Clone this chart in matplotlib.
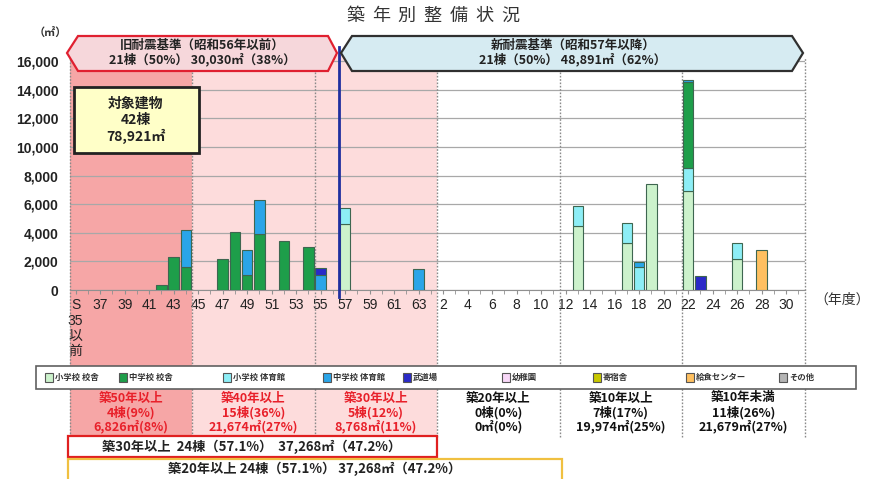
import matplotlib
matplotlib.use('Agg')
import matplotlib.pyplot as plt
from matplotlib.patches import Rectangle, Polygon
from matplotlib.lines import Line2D
from matplotlib import transforms

W, H = 880, 479
JP = ['Noto Sans CJK JP', 'DejaVu Sans']
LAT = ['Liberation Sans', 'Noto Sans CJK JP', 'DejaVu Sans']

# ---------------- data ----------------
slots = ['S35以前', 'S36', 'S37', 'S38', 'S39', 'S40', 'S41', 'S42', 'S43', 'S44',
         'S45', 'S46', 'S47', 'S48', 'S49', 'S50', 'S51', 'S52', 'S53', 'S54',
         'S55', 'S56', 'S57', 'S58', 'S59', 'S60', 'S61', 'S62', 'S63', 'H1',
         'H2', 'H3', 'H4', 'H5', 'H6', 'H7', 'H8', 'H9', 'H10', 'H11',
         'H12', 'H13', 'H14', 'H15', 'H16', 'H17', 'H18', 'H19', 'H20', 'H21',
         'H22', 'H23', 'H24', 'H25', 'H26', 'H27', 'H28', 'H29', 'H30', 'H31']

tick_slots = ['S35以前', 'S37', 'S39', 'S41', 'S43', 'S45', 'S47', 'S49', 'S51', 'S53',
              'S55', 'S57', 'S59', 'S61', 'S63', 'H2', 'H4', 'H6', 'H8', 'H10',
              'H12', 'H14', 'H16', 'H18', 'H20', 'H22', 'H24', 'H26', 'H28', 'H30']
tick_texts = ['S\n35\n以\n前', '37', '39', '41', '43', '45', '47', '49', '51', '53',
              '55', '57', '59', '61', '63', '2', '4', '6', '8', '10',
              '12', '14', '16', '18', '20', '22', '24', '26', '28', '30']

ytick_values = [0, 2000, 4000, 6000, 8000, 10000, 12000, 14000, 16000]
ytick_texts = ['0', '2,000', '4,000', '6,000', '8,000', '10,000', '12,000', '14,000', '16,000']

# building types (legend order)
legend_names = ['小学校 校舎', '中学校 校舎', '小学校 体育館', '中学校 体育館', '武道場',
                '幼稚園', '寄宿舎', '給食センター', 'その他']
legend_colors = ['#CCF2CC', '#1E9E4A', '#8DEEF6', '#2AA5E8', '#2A2AC8',
                 '#F8D8F8', '#C8C800', '#FFC060', '#B4B4B4']

# floor area (㎡) per fiscal year of construction
elem_bldg = {'S57': 4590, 'H13': 4500, 'H17': 3260, 'H19': 7404, 'H22': 6950, 'H26': 2170}
elem_gym = {'S57': 1160, 'H13': 1380, 'H17': 1450, 'H18': 1630, 'H22': 1560, 'H26': 1089}
jr_bldg = {'S42': 330, 'S43': 2330, 'S44': 1590, 'S47': 2140, 'S48': 4080, 'S49': 1020,
           'S50': 3910, 'S52': 3420, 'S54': 2994, 'H22': 5990}
jr_gym = {'S44': 2576, 'S49': 1740, 'S50': 2370, 'S55': 1020, 'S63': 1488, 'H18': 350, 'H22': 150}
budo = {'S55': 510, 'H23': 970}
kinder = {}
dorm = {}
lunch = {'H28': 2800}
other = {}

# stacking order (bottom -> top): (series, legend index)
stack = [(elem_bldg, 0), (elem_gym, 2), (jr_bldg, 1), (jr_gym, 3), (budo, 4),
         (kinder, 5), (dorm, 6), (lunch, 7), (other, 8)]

region_bounds = [-0.5, 9.5, 19.5, 29.5, 39.5, 49.5, 59.5]
region_titles = ['築50年以上', '築40年以上', '築30年以上', '築20年以上', '築10年以上', '築10年未満']
region_counts = ['4棟(9%)', '15棟(36%)', '5棟(12%)', '0棟(0%)', '7棟(17%)', '11棟(26%)']
region_areas = ['6,826㎡(8%)', '21,674㎡(27%)', '8,768㎡(11%)', '0㎡(0%)', '19,974㎡(25%)', '21,679㎡(27%)']
region_text_colors = ['#E8202A', '#E8202A', '#E8202A', '#111111', '#111111', '#111111']
region_fill = ['#F6A6A6', '#FDDCDC', '#FDDCDC', None, None, None]

old_std = ['旧耐震基準（昭和56年以前）', '21棟（50%） 30,030㎡（38%）']
new_std = ['新耐震基準（昭和57年以降）', '21棟（50%） 48,891㎡（62%）']
target = ['対象建物', '42棟', '78,921㎡']
sum30 = '築30年以上  24棟（57.1%）  37,268㎡（47.2%）'
sum20 = '築20年以上 24棟（57.1%） 37,268㎡（47.2%）'
title = '築年別整備状況'
boundary_x = 21.5  # between S56 and S57


def fx(p):
    return p / W


def fy(p):
    return 1 - p / H


# ---------------- figure ----------------
fig = plt.figure(figsize=(W / 100, H / 100), dpi=100)
fig.patch.set_facecolor('white')
ax = fig.add_axes([fx(69.5), fy(290), (804.5 - 69.5) / W, (290 - 46.7) / H])
ax.set_facecolor('none')
ax.set_xlim(-0.5, 59.5)
ax.set_ylim(0, 17000)

blend = transforms.blended_transform_factory(ax.transData, fig.transFigure)

# backgrounds
for i in range(6):
    if region_fill[i]:
        ax.add_patch(Rectangle((region_bounds[i], fy(436)), region_bounds[i + 1] - region_bounds[i],
                               fy(55) - fy(436), transform=blend, facecolor=region_fill[i],
                               edgecolor='none', zorder=0, clip_on=False))

# grid
ax.set_axisbelow(True)
ax.yaxis.grid(True, color='#A8A8A8', lw=0.9)
ax.set_yticks(ytick_values)
ax.set_yticklabels(ytick_texts, fontfamily=LAT, fontsize=10, fontweight='bold', color='#222222')
ax.tick_params(axis='y', length=0, pad=8)

# vertical dotted region separators
for xb in region_bounds:
    ax.add_line(Line2D([xb, xb], [fy(437), fy(57)], transform=blend, color='#8A8A8A',
                       lw=1.0, ls=(0, (1.2, 1.2)), zorder=1, clip_on=False))

# stacked bars
bottoms = [0.0] * len(slots)
for series, li in stack:
    if not series:
        continue
    xs = [slots.index(k) for k in series]
    vals = list(series.values())
    bots = [bottoms[x] for x in xs]
    ax.bar(xs, vals, bottom=bots, width=0.85, color=legend_colors[li],
           edgecolor='#3E6650', linewidth=0.8, zorder=3)
    for x, v in zip(xs, vals):
        bottoms[x] += v

# x axis
ax.set_xticks(range(len(slots)), minor=True)
ax.set_xticks([slots.index(s) for s in tick_slots])
ax.set_xticklabels(tick_texts, fontfamily=LAT, fontsize=10, color='#222222', linespacing=1.12)
ax.tick_params(axis='x', which='both', length=3, color='#909090', pad=3)
for sp in ['left', 'right', 'top']:
    ax.spines[sp].set_visible(False)
ax.spines['bottom'].set_color('#909090')

# old/new boundary line
ax.add_line(Line2D([boundary_x, boundary_x], [fy(297), fy(47)], transform=blend,
                   color='#1F2F9F', lw=2, zorder=6, clip_on=False))

# title
for i, ch in enumerate(title):
    fig.text(fx(355 + 25.8 * i), fy(16), ch, fontfamily=JP, fontsize=13, color='#333333',
             ha='center', va='center')
fig.text(fx(50), fy(33), '（㎡）', fontfamily=JP, fontsize=8, fontweight='bold',
         color='#333333', ha='center', va='center')
fig.text(fx(842), fy(300), '（年度）', fontfamily=JP, fontsize=10, color='#333333',
         ha='center', va='center')

# top arrow boxes
left_box = [(67, 53), (78, 36), (328, 36), (337, 53), (328, 71), (78, 71)]
right_box = [(341, 53), (352, 36), (792, 36), (803, 53), (792, 71), (352, 71)]
fig.patches.append(Polygon([(fx(a), fy(b)) for a, b in left_box], closed=True,
                           transform=fig.transFigure, facecolor='#F6D7DB',
                           edgecolor='#E02030', lw=1.6, zorder=5))
fig.patches.append(Polygon([(fx(a), fy(b)) for a, b in right_box], closed=True,
                           transform=fig.transFigure, facecolor='#D6EBF2',
                           edgecolor='#303030', lw=1.6, zorder=5))
for j, line in enumerate(old_std):
    fig.text(fx(202), fy(45 + 15 * j), line, fontfamily=JP, fontsize=9, fontweight='bold',
             color='#222222', ha='center', va='center', zorder=6)
for j, line in enumerate(new_std):
    fig.text(fx(573), fy(45 + 15 * j), line, fontfamily=JP, fontsize=9, fontweight='bold',
             color='#222222', ha='center', va='center', zorder=6)

# target box
fig.patches.append(Rectangle((fx(74), fy(153)), fx(199) - fx(74), fy(87) - fy(153),
                             transform=fig.transFigure, facecolor='#FFFFC8',
                             edgecolor='#222222', lw=2, zorder=5))
for j, line in enumerate(target):
    fig.text(fx(136), fy(104 + 16 * j), line, fontfamily=JP, fontsize=10, fontweight='bold',
             color='#222222', ha='center', va='center', zorder=6)

# legend
leg_x = [45, 119, 223, 323, 403, 502, 593, 686, 779]
fig.patches.append(Rectangle((fx(36), fy(389)), fx(856) - fx(36), fy(366) - fy(389),
                             transform=fig.transFigure, facecolor='white',
                             edgecolor='#606060', lw=1.2, zorder=5))
for name, col, px in zip(legend_names, legend_colors, leg_x):
    fig.patches.append(Rectangle((fx(px), fy(382)), fx(8), fy(373) - fy(382),
                                 transform=fig.transFigure, facecolor=col,
                                 edgecolor='#555555', lw=0.8, zorder=6))
    fig.text(fx(px + 10), fy(377.5), name, fontfamily=JP, fontsize=6, fontweight='bold',
             color='#333333', ha='left', va='center', zorder=6)

# region statistics
for i in range(6):
    cx = (region_bounds[i] + region_bounds[i + 1]) / 2
    for j, line in enumerate([region_titles[i], region_counts[i], region_areas[i]]):
        ax.text(cx, fy(398 + 14.5 * j), line, transform=blend, fontfamily=JP, fontsize=9,
                fontweight='bold', color=region_text_colors[i], ha='center', va='center',
                clip_on=False, zorder=6)

# summary boxes
fig.patches.append(Rectangle((fx(68), fy(457)), fx(437) - fx(68), fy(436) - fy(457),
                             transform=fig.transFigure, facecolor='white',
                             edgecolor='#E02020', lw=1.6, zorder=5))
fig.text(fx(252), fy(446.5), sum30, fontfamily=JP, fontsize=9.5, fontweight='bold',
         color='#222222', ha='center', va='center', zorder=6)
fig.patches.append(Rectangle((fx(68), fy(481)), fx(562) - fx(68), fy(459) - fy(481),
                             transform=fig.transFigure, facecolor='white',
                             edgecolor='#F0C040', lw=1.6, zorder=5))
fig.text(fx(315), fy(469), sum20, fontfamily=JP, fontsize=9.5, fontweight='bold',
         color='#222222', ha='center', va='center', zorder=6)

fig.savefig('out.png', dpi=100)
